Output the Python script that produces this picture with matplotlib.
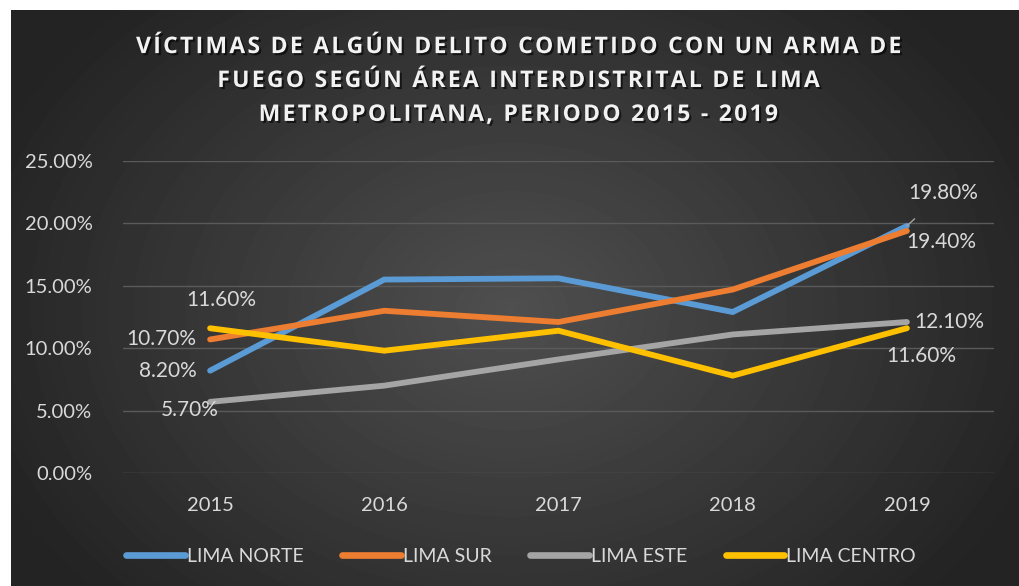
import numpy as np
import matplotlib
matplotlib.use("Agg")
import matplotlib.pyplot as plt
import matplotlib.patheffects as pe

years = ["2015", "2016", "2017", "2018", "2019"]
lima_norte = [8.2, 15.5, 15.6, 12.9, 19.8]
lima_sur = [10.7, 13.0, 12.1, 14.7, 19.4]
lima_este = [5.7, 7.0, 9.1, 11.1, 12.1]
lima_centro = [11.6, 9.8, 11.4, 7.8, 11.6]
names = ["LIMA NORTE", "LIMA SUR", "LIMA ESTE", "LIMA CENTRO"]
colors = ["#5B9BD5", "#ED7D31", "#A5A5A5", "#FFC000"]
title_lines = ["VÍCTIMAS DE ALGÚN DELITO COMETIDO CON UN ARMA DE",
               "FUEGO SEGÚN ÁREA INTERDISTRITAL DE LIMA",
               "METROPOLITANA, PERIODO 2015 - 2019"]

plt.rcParams["font.family"] = ["Lato", "DejaVu Sans"]
txt = "#D9D9D9"

fig = plt.figure(figsize=(10.19, 5.86), dpi=100)
fig.patch.set_facecolor("white")

# dark radial gradient background
bg = fig.add_axes([11 / 1019, 0, 1008 / 1019, 576 / 586])
yy, xx = np.mgrid[0:576, 0:1008]
r = np.sqrt(((xx - 500) / 560.0) ** 2 + ((yy - 300) / 420.0) ** 2)
shade = np.clip(0.31 - 0.17 * r, 0.14, 0.31)
bg.imshow(shade, cmap="gray", vmin=0, vmax=1, aspect="auto")
bg.axis("off")

ax = fig.add_axes([123 / 1019, 113 / 586, 871 / 1019, 312 / 586])
ax.patch.set_alpha(0)
x = np.arange(len(years))
series = [lima_norte, lima_sur, lima_este, lima_centro]
for vals, c, n in zip(series, colors, names):
    ax.plot(x, vals, color=c, lw=4.2, solid_capstyle="round",
            solid_joinstyle="miter", label=n, zorder=3)

ax.set_xlim(-0.5, 4.5)
ax.set_ylim(0, 25)
ax.set_yticks(np.arange(0, 26, 5))
ax.set_yticklabels([f"{v:.2f}%" for v in np.arange(0, 26, 5)])
ax.set_xticks(x)
ax.set_xticklabels(years)
ax.grid(axis="y", color="#5A5A5A", lw=1)
ax.set_axisbelow(True)
for s in ax.spines.values():
    s.set_visible(False)
ax.tick_params(length=0, colors=txt, labelsize=14.5)
ax.tick_params(axis="y", pad=22)
ax.tick_params(axis="x", pad=17)

lab = dict(color=txt, fontsize=15)
ax.annotate(f"{lima_centro[0]:.2f}%", (0, lima_centro[0]), xytext=(11, 28),
            textcoords="offset pixels", ha="center", va="center", **lab)
ax.annotate(f"{lima_sur[0]:.2f}%", (0, lima_sur[0]), xytext=(-14, 0),
            textcoords="offset pixels", ha="right", va="center", **lab)
ax.annotate(f"{lima_norte[0]:.2f}%", (0, lima_norte[0]), xytext=(-42, 0),
            textcoords="offset pixels", ha="center", va="center", **lab)
ax.annotate(f"{lima_este[0]:.2f}%", (0, lima_este[0]), xytext=(-20, -8),
            textcoords="offset pixels", ha="center", va="center", **lab)
ax.annotate(f"{lima_norte[4]:.2f}%", (4, lima_norte[4]), xytext=(36, 33),
            textcoords="offset pixels", ha="center", va="center",
            arrowprops=dict(arrowstyle="-", color="#A5A5A5", lw=1,
                            shrinkA=14, shrinkB=0), **lab)
ax.annotate(f"{lima_sur[4]:.2f}%", (4, lima_sur[4]), xytext=(34, -11),
            textcoords="offset pixels", ha="center", va="center", **lab)
ax.annotate(f"{lima_este[4]:.2f}%", (4, lima_este[4]), xytext=(42, 0),
            textcoords="offset pixels", ha="center", va="center", **lab)
ax.annotate(f"{lima_centro[4]:.2f}%", (4, lima_centro[4]), xytext=(14, -28),
            textcoords="offset pixels", ha="center", va="center", **lab)

# letter-spaced title (hair spaces between characters)
title = "\n".join("\u200a".join(line) for line in title_lines)
fig.text(517 / 1019, 1 - 81 / 586, title, ha="center", va="center",
         color="#F2F2F2", fontsize=16.5, fontweight="bold", linespacing=1.55,
         family=["Open Sans", "DejaVu Sans"],
         path_effects=[pe.withSimplePatchShadow(offset=(1.5, -1.5),
                                                shadow_rgbFace="black", alpha=0.6)])

leg = fig.legend(loc="center", bbox_to_anchor=(521 / 1019, 1 - 556 / 586), ncol=4,
                 frameon=False, fontsize=14, handlelength=3.0, handletextpad=0.1,
                 columnspacing=2.0, labelcolor=txt)
for h in leg.legend_handles:
    h.set_solid_capstyle("round")
    h.set_linewidth(4.8)

fig.savefig("out.png", dpi=100, facecolor="white")
